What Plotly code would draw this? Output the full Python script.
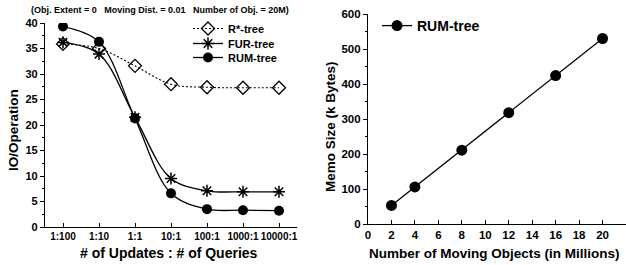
import plotly.graph_objects as go

ratios = ["1:100", "1:10", "1:1", "10:1", "100:1", "1000:1", "10000:1"]
rstar = [35.9, 35.0, 31.6, 28.0, 27.4, 27.3, 27.3]
fur = [36.2, 33.9, 21.5, 9.5, 7.1, 6.9, 6.9]
rum = [39.3, 36.3, 21.3, 6.6, 3.5, 3.3, 3.2]

objs = [2, 4, 8, 12, 16, 20]
memo = [53, 106, 211, 318, 424, 530]

W, H = 626, 265
def px(x):
    return x / W
def py(y):
    return (H - y) / H

F = "Liberation Sans, Arial, sans-serif"
xi = list(range(len(ratios)))
B = lambda s: "<b>%s</b>" % s

fig = go.Figure()
fig.add_trace(go.Scatter(x=xi, y=rstar, name=B("R*-tree"), mode="lines+markers",
    line=dict(color="black", width=1.1, dash="2px,2px", shape="spline"),
    marker=dict(symbol="diamond-open", size=10, color="black", line=dict(width=1.3)),
    legend="legend", xaxis="x", yaxis="y"))
fig.add_trace(go.Scatter(x=xi, y=fur, name=B("FUR-tree"), mode="lines+markers",
    line=dict(color="black", width=1.3, shape="spline"),
    marker=dict(symbol="asterisk-open", size=10, color="black", line=dict(width=1.5, color="black")),
    legend="legend3", xaxis="x", yaxis="y"))
fig.add_trace(go.Scatter(x=xi, y=rum, name=B("RUM-tree"), mode="lines+markers",
    line=dict(color="black", width=1.3, shape="spline"),
    marker=dict(symbol="circle", size=10, color="black"),
    legend="legend4", xaxis="x", yaxis="y"))
fig.add_trace(go.Scatter(x=objs, y=memo, name=B("RUM-tree"), mode="lines+markers",
    line=dict(color="black", width=1.3),
    marker=dict(symbol="circle", size=11, color="black"),
    legend="legend2", xaxis="x2", yaxis="y2"))

def tf(size):
    return dict(family=F, size=size, color="black")
axcommon = dict(showgrid=False, zeroline=False, showline=True, linecolor="black",
                linewidth=1.2, tickcolor="black", automargin=False, tickangle=0)

ly = list(range(0, 41, 5))
ry = list(range(0, 601, 100))
rx = list(range(0, 21, 2))

def leg(xp, yp, size):
    return dict(x=px(xp), y=py(yp), xanchor="left", yanchor="top",
                bgcolor="rgba(0,0,0,0)", font=tf(size))

fig.update_layout(
    width=W, height=H, margin=dict(l=0, r=0, t=0, b=0),
    paper_bgcolor="white", plot_bgcolor="white", showlegend=True,
    xaxis=dict(domain=[px(45), px(297)], range=[-0.5, 6.5], tickmode="array",
               tickvals=xi, ticktext=[B(t) for t in ratios], tickfont=tf(10),
               ticks="inside", ticklen=4, anchor="y", **axcommon),
    yaxis=dict(domain=[py(227), py(23)], range=[0, 40], tickmode="array", tickvals=ly,
               ticktext=[B(v) for v in ly], tickfont=tf(11),
               ticks="outside", ticklen=4, anchor="x",
               minor=dict(ticks="outside", ticklen=2, tickcolor="black", dtick=2.5), **axcommon),
    xaxis2=dict(domain=[px(368), 1.0], range=[0, 22], tickmode="array", tickvals=rx,
                ticktext=[B(v) for v in rx], tickfont=tf(11.5),
                ticks="inside", ticklen=4, anchor="y2", **axcommon),
    yaxis2=dict(domain=[py(224), py(14)], range=[0, 600], tickmode="array", tickvals=ry,
                ticktext=[B(v) for v in ry], tickfont=tf(11.5),
                ticks="outside", ticklen=4, anchor="x2",
                minor=dict(ticks="outside", ticklen=2, tickcolor="black", dtick=50), **axcommon),
    legend=leg(188, 14, 11),
    legend3=leg(188, 29, 11),
    legend4=leg(188, 43, 11),
    legend2=leg(377, 10, 14),
    annotations=[
        dict(text=B("(Obj. Extent = 0&nbsp;&nbsp;&nbsp;Moving Dist. = 0.01&nbsp;&nbsp;&nbsp;Number of Obj. = 20M)"),
             x=px(160), y=py(10), xref="paper", yref="paper", xanchor="center", yanchor="middle",
             showarrow=False, font=tf(9)),
        dict(text=B("IO/Operation"), textangle=-90, x=px(13), y=py(130), xref="paper", yref="paper",
             xanchor="center", yanchor="middle", showarrow=False, font=tf(13.5)),
        dict(text=B("# of Updates : # of Queries"), x=px(169), y=py(253), xref="paper", yref="paper",
             xanchor="center", yanchor="middle", showarrow=False, font=tf(14)),
        dict(text=B("Memo Size (k Bytes)"), textangle=-90, x=px(330), y=py(127), xref="paper",
             yref="paper", xanchor="center", yanchor="middle", showarrow=False, font=tf(13.5)),
        dict(text=B("Number of Moving Objects (in Millions)"), x=px(367), y=py(253), xref="paper",
             yref="paper", xanchor="left", yanchor="middle", showarrow=False, font=tf(13.5)),
    ],
)

fig.write_html("out.html", config={"displayModeBar": False},
               post_script="document.body.style.margin='0';")
